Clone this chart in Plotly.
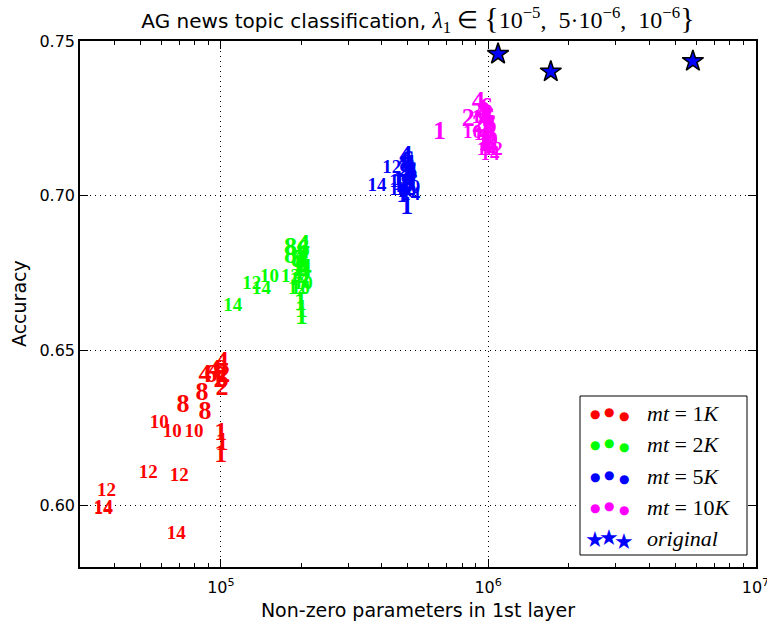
import plotly.graph_objects as go

# ---------------- data ----------------
labels = [1, 1, 1, 2, 2, 2, 4, 4, 4, 6, 6, 6, 8, 8, 8, 10, 10, 10, 12, 12, 12, 14, 14, 14]

red_x = [100000, 100900, 100000, 100900, 99150, 102600, 87200, 95000, 100900, 91800, 99150, 100900,
         72240, 85000, 87200, 58830, 65730, 79360, 53550, 69820, 37370, 36330, 68030, 36330]
red_y = [0.6233, 0.6200, 0.6161, 0.6378, 0.6404, 0.6420, 0.6420, 0.6436, 0.6462, 0.6420, 0.6436, 0.6404,
         0.6323, 0.6362, 0.6300, 0.6265, 0.6236, 0.6236, 0.6103, 0.6094, 0.6045, 0.5987, 0.5906, 0.5990]

green_x = [198400, 200100, 200100, 200100, 203500, 198400, 203500, 200100, 207000, 203500, 200100, 203500,
           182000, 182000, 193300, 152100, 198400, 203500, 130400, 182000, 193300, 110800, 142000, 196700]
green_y = [0.6653, 0.6608, 0.6630, 0.6776, 0.6760, 0.6792, 0.6840, 0.6808, 0.6760, 0.6824, 0.6776, 0.6744,
           0.6831, 0.6803, 0.6792, 0.6737, 0.6698, 0.6714, 0.6714, 0.6735, 0.6698, 0.6643, 0.6698, 0.6727]

blue_x = [495600, 478900, 462800, 487200, 504200, 478900, 491400, 504200, 512900, 499900, 512900, 504200,
          491400, 508600, 495600, 478900, 512900, 495600, 435900, 462800, 487200, 383400, 512900, 462800]
blue_y = [0.6963, 0.7002, 0.7041, 0.7083, 0.7057, 0.7034, 0.7128, 0.7099, 0.7067, 0.7109, 0.7076, 0.7044,
          0.7099, 0.7067, 0.7034, 0.7051, 0.7025, 0.7012, 0.7089, 0.7044, 0.7018, 0.7031, 0.7002, 0.7018]

magenta_x = [657500, 990000, 983000, 842800, 918000, 958000, 918000, 942000, 983000, 983000, 1000000, 1017000,
             958000, 1000000, 1017000, 873000, 958000, 1000000, 942000, 1000000, 1044000, 983000, 1017000, 1000000]
magenta_y = [0.7203, 0.7180, 0.7164, 0.7245, 0.7228, 0.7212, 0.7300, 0.7270, 0.7251, 0.7283, 0.7251, 0.7228,
             0.7270, 0.7212, 0.7196, 0.7203, 0.7196, 0.7180, 0.7251, 0.7164, 0.7148, 0.7148, 0.7131, 0.7164]

orig_x = [1089000, 1715000, 5833000]
orig_y = [0.7458, 0.7401, 0.7435]

series_names = ["mt=1K", "mt=2K", "mt=5K", "mt=10K"]
series_colors = ["#ff0000", "#00ff00", "#0000ff", "#ff00ff"]
series_x = [red_x, green_x, blue_x, magenta_x]
series_y = [red_y, green_y, blue_y, magenta_y]

x_tick_vals = [1e5, 1e6, 1e7]
x_tick_text = ["10<sup>5</sup>", "10<sup>6</sup>", "10<sup>7</sup>"]
x_minor_vals = [m * 10 ** e for e in (4, 5, 6) for m in range(2, 10) if m * 10 ** e > 30000]
y_tick_vals = [0.60, 0.65, 0.70, 0.75]

# ---------------- figure ----------------
fig = go.Figure()

for name, col, xs, ys in zip(series_names, series_colors, series_x, series_y):
    txt = [str(v) for v in labels]
    sizes = [26 if len(t) == 1 else 19 for t in txt]
    fig.add_trace(go.Scatter(
        x=xs, y=ys, mode="text", text=txt, name=name, showlegend=False,
        textposition="middle center",
        textfont=dict(family="Liberation Serif", size=sizes, color=col, weight="bold"),
    ))

fig.add_trace(go.Scatter(
    x=orig_x, y=orig_y, mode="markers", name="original", showlegend=False,
    marker=dict(symbol="star", size=16, color="#0000ff", line=dict(color="black", width=1.5)),
))

# ---------------- legend (manual, matplotlib-like) ----------------
L, R, T, B = 80, 756, 41, 567
def px(xp):
    return (xp - L) / (R - L)
def py(yp):
    return (B - yp) / (B - T)

shapes = [dict(type="rect", xref="paper", yref="paper", x0=px(580), x1=px(747), y0=py(555), y1=py(396),
               line=dict(color="black", width=1), fillcolor="white", layer="above")]
annotations = []
row_y = [413, 444, 476, 507, 538]
dot_dx = [595, 609, 624]
dot_dy = [1, -1, 3]
legend_labels = ["<i>mt</i> = 1<i>K</i>", "<i>mt</i> = 2<i>K</i>", "<i>mt</i> = 5<i>K</i>",
                 "<i>mt</i> = 10<i>K</i>", "<i>original</i>"]
for i, ry in enumerate(row_y):
    for dx, dy in zip(dot_dx, dot_dy):
        if i < 4:
            annotations.append(dict(xref="paper", yref="paper", x=px(dx), y=py(ry + dy), text="●",
                                    xanchor="center", yanchor="middle", showarrow=False,
                                    font=dict(family="DejaVu Sans", size=12, color=series_colors[i])))
        else:
            annotations.append(dict(xref="paper", yref="paper", x=px(dx), y=py(ry + dy), text="★",
                                    xanchor="center", yanchor="middle", showarrow=False,
                                    font=dict(family="DejaVu Sans", size=22, color="#0000ff")))
    annotations.append(dict(xref="paper", yref="paper", x=px(645), y=py(ry), xanchor="left", yanchor="middle",
                            text=legend_labels[i], showarrow=False,
                            font=dict(family="Liberation Serif", size=22, color="black")))

annotations.append(dict(xref="paper", yref="paper", x=px(19), y=py(304), text="Accuracy", textangle=-90,
                        xanchor="center", yanchor="middle", showarrow=False,
                        font=dict(family="DejaVu Sans", size=19, color="black")))

fig.update_layout(
    width=767, height=621,
    margin=dict(l=L, r=767 - R, t=T, b=621 - B, autoexpand=False),
    paper_bgcolor="white", plot_bgcolor="white",
    title=dict(
        text='AG news topic classification, <span style="font-family:Liberation Serif;font-size:24px">'
             '<i>λ</i><sub>1</sub> ∈ <span style="font-size:30px">{</span>10<sup>−5</sup>,  5·10<sup>−6</sup>,'
             '  10<sup>−6</sup><span style="font-size:30px">}</span></span>',
        x=0.5, xref="paper", xanchor="center", y=1 - 21 / 621, yref="container", yanchor="middle",
        font=dict(family="DejaVu Sans", size=20, color="black")),
    font=dict(family="DejaVu Sans", color="black"),
    shapes=shapes, annotations=annotations,
    showlegend=False,
)

fig.update_xaxes(
    type="log", range=[4.473, 7.002], tickmode="array", tickvals=x_tick_vals, ticktext=x_tick_text,
    ticklabeloverflow="allow", ticklabelstandoff=5,
    showline=True, linecolor="black", linewidth=1.5, mirror="allticks",
    ticks="inside", ticklen=8, tickwidth=1, tickcolor="black",
    tickfont=dict(family="DejaVu Sans", size=16),
    showgrid=True, gridcolor="black", griddash="1px,4px", gridwidth=1,
    minor=dict(tickmode="array", tickvals=x_minor_vals, ticks="inside", ticklen=4, tickcolor="black",
               showgrid=False),
    zeroline=False, automargin=False,
    title=dict(text="Non-zero parameters in 1st layer", font=dict(family="DejaVu Sans", size=19)),
)
fig.update_yaxes(
    range=[0.58, 0.75], tickmode="array", tickvals=y_tick_vals, tickformat=".2f",
    showline=True, linecolor="black", linewidth=1.5, mirror="allticks",
    ticks="inside", ticklen=8, tickwidth=1, tickcolor="black",
    tickfont=dict(family="DejaVu Sans", size=16),
    showgrid=True, gridcolor="black", griddash="1px,4px", gridwidth=1,
    zeroline=False, automargin=False,
)

fig.write_html("out.html")
